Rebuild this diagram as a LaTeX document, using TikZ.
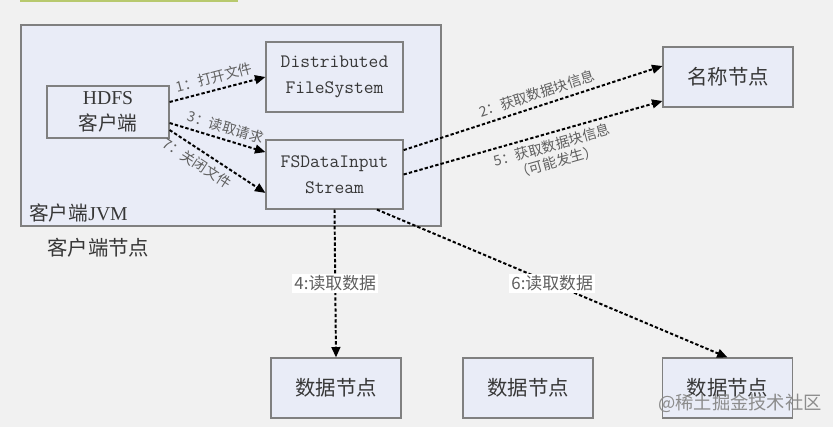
\documentclass[tikz,border=0pt]{standalone}
\usepackage{fontspec}
\setmainfont{Liberation Serif}
\newfontfamily\cjk{Noto Sans CJK SC}
\usetikzlibrary{arrows.meta,positioning,calc}
\definecolor{hdbg}{RGB}{241,241,241}
\definecolor{hdedge}{RGB}{128,128,128}
\definecolor{hdfill}{RGB}{233,236,247}
\definecolor{hdtext}{RGB}{55,55,55}
\definecolor{hdlbl}{RGB}{95,95,95}
\definecolor{hdbar}{RGB}{184,201,110}
\tikzset{
  hdbox/.style={
    draw=hdedge, line width=0.8pt, fill=hdfill, align=center,
    inner sep=2pt, text=hdtext, font=\fontsize{14}{18.5}\selectfont
  },
  cnbox/.style={hdbox, font=\fontsize{14.5}{18.5}\selectfont\cjk},
  ttbox/.style={hdbox, font=\fontsize{13.5}{18.5}\selectfont\ttfamily},
  grpbox/.style={draw=hdedge, line width=0.8pt, fill=hdfill},
  cnlabel/.style={inner sep=0pt, text=hdtext, font=\fontsize{14}{17}\selectfont},
  darr/.style={-{Triangle[length=2.6mm,width=2.2mm]}, draw=black, line width=1.4pt,
    dash pattern=on 2.4pt off 1.5pt},
  anno/.style={font=\fontsize{10}{12}\selectfont\cjk, text=hdlbl, align=center, inner sep=3.5pt},
  rdlbl/.style={font=\fontsize{12}{14}\selectfont\cjk, text=hdlbl, fill=white, inner sep=1.5pt},
  wmark/.style={font=\fontsize{13}{15}\selectfont\cjk, text=black!45, inner sep=0pt}
}
\begin{document}
\begin{tikzpicture}[x=0.025cm,y=-0.025cm]
  \fill[hdbg] (0,0) rectangle (833,427);
  \useasboundingbox (0,0) rectangle (833,427);
  \fill[hdbar] (20,0) rectangle (238,2.5);
  % client node and its JVM
  \node[grpbox, minimum width=10.5cm, minimum height=5.025cm] (jvm) at (231,125.5) {};
  \node[cnlabel, anchor=west] (jvmlbl) at (29,213) {{\cjk 客户端}JVM};
  \node[cnlabel, anchor=west, font=\fontsize{14.5}{17}\selectfont\cjk] (hostlbl) at (47,248) {客户端节点};
  \node[hdbox, minimum width=3.05cm, minimum height=1.3cm] (hdfs) at (108,112) {HDFS\\{\cjk 客户端}};
  \node[ttbox, minimum width=3.425cm, minimum height=1.75cm] (dfs) at (334.5,77) {Distributed\\FileSystem};
  \node[ttbox, minimum width=3.425cm, minimum height=1.725cm] (fsd) at (334.5,174.5) {FSDataInput\\Stream};
  % name node and data nodes
  \node[cnbox, minimum width=3.25cm, minimum height=1.5cm] (nn) at (728,77) {名称节点};
  \node[cnbox, minimum width=3.25cm, minimum height=1.5cm] (dn1) at (336,388) {数据节点};
  \node[cnbox, minimum width=3.25cm, minimum height=1.5cm] (dn2) at (528,388) {数据节点};
  \node[cnbox, minimum width=3.25cm, minimum height=1.5cm] (dn3) at (727.5,388) {数据节点};
  % calls
  \draw[darr] ([yshift=2.5mm]hdfs.east) -- (dfs.west)
    node[anno, midway, above, sloped] {1：打开文件};
  \draw[darr] ([yshift=-2.75mm]hdfs.east) -- ([yshift=5.6mm]fsd.west)
    node[anno, pos=0.55, above, sloped] {3：读取请求};
  \draw[darr] ([yshift=-4.5mm]hdfs.east) -- ([yshift=-4.6mm]fsd.west)
    node[anno, pos=0.36, below, sloped] {7：关闭文件};
  \draw[darr] ([yshift=6.1mm]fsd.east) -- ([yshift=2.75mm]nn.west)
    node[anno, pos=0.53, above, sloped] {2：获取数据块信息};
  \draw[darr] (fsd.east) -- ([yshift=-6mm]nn.west)
    node[anno, pos=0.56, below, sloped] {5：获取数据块信息\\（可能发生）};
  \draw[darr] (fsd.south) -- (dn1.north)
    node[rdlbl, midway] {4:读取数据};
  \draw[darr] ([xshift=10.6mm]fsd.south) -- (dn3.north)
    node[rdlbl, midway] {6:读取数据};
  \node[wmark] (wm) at (740,403) {@稀土掘金技术社区};
\end{tikzpicture}
\end{document}
